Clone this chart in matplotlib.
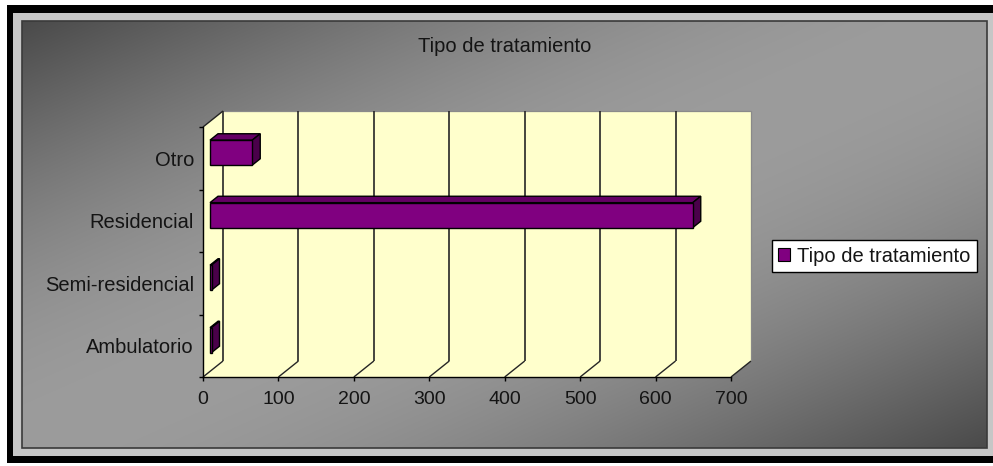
import numpy as np
import matplotlib.pyplot as plt
from matplotlib.patches import Polygon, Rectangle, Patch

# Tratamientos (de abajo hacia arriba) y número de casos
categories = ["Ambulatorio", "Semi-residencial", "Residencial", "Otro"]
values = [2, 2, 640, 56]
x_ticks = [0, 100, 200, 300, 400, 500, 600, 700]
title = "Tipo de tratamiento"
series_name = "Tipo de tratamiento"

W, H = 993, 466
plt.rcParams['font.family'] = ['Liberation Sans', 'DejaVu Sans']
TEXT = '#141414'

fig = plt.figure(figsize=(W / 100, H / 100), dpi=100)
fig.patch.set_facecolor('white')


def frac_box(x0, y0, x1, y1):
    # box given in pixels from the top-left corner -> figure fraction [l, b, w, h]
    return [x0 / W, 1 - y1 / H, (x1 - x0) / W, (y1 - y0) / H]


# outer black frame and light bevel
for rect, color, z in [((7, 5, 1000, 463), 'black', -3),
                       ((13, 13, 1000, 456), '#c6c6c6', -2)]:
    l, b, w, h = frac_box(*rect)
    fig.add_artist(Rectangle((l, b), w, h, transform=fig.transFigure,
                             facecolor=color, edgecolor='none', zorder=z))

# diagonal gray gradient panel
bg = fig.add_axes(frac_box(22, 21, 987, 448), zorder=-1)
nx, ny = 965, 427
u = np.linspace(0, 1, nx)[None, :]
v = np.linspace(0, 1, ny)[:, None]
t = (u + v) / 2
gray = (74 + 82 * np.sin(np.pi * t)) / 255
bg.imshow(np.dstack([gray, gray, gray]), aspect='auto', interpolation='bilinear')
bg.axis('off')
bg.add_patch(Rectangle((0, 0), 1, 1, transform=bg.transAxes, fill=False,
                       edgecolor='#3a3a3a', lw=1.2, clip_on=False))

# plot area: the front plane of the 3-D box
ax = fig.add_axes(frac_box(203, 127, 731, 377))
ax.set_xlim(0, 700)
ax.set_ylim(-0.5, 3.5)
ax.patch.set_visible(False)
for side in ('top', 'right'):
    ax.spines[side].set_visible(False)
for side in ('left', 'bottom'):
    ax.spines[side].set_color('black')
    ax.spines[side].set_linewidth(1.0)

DX, DY = 20, 16  # depth of the box in pixels


def lift(x, y, z):
    # point (x, y) pushed back by depth fraction z
    px, py = ax.transData.transform((x, y))
    return ax.transData.inverted().transform((px + z * DX, py + z * DY))


WALL = '#ffffcc'
y_lo, y_hi = -0.5, 3.5
x_hi = x_ticks[-1]

back = [lift(0, y_lo, 1), lift(x_hi, y_lo, 1), lift(x_hi, y_hi, 1), lift(0, y_hi, 1)]
side_wall = [lift(0, y_lo, 0), lift(0, y_hi, 0), lift(0, y_hi, 1), lift(0, y_lo, 1)]
floor = [lift(0, y_lo, 0), lift(x_hi, y_lo, 0), lift(x_hi, y_lo, 1), lift(0, y_lo, 1)]
for poly in (back, side_wall, floor):
    ax.add_patch(Polygon(poly, closed=True, facecolor=WALL, edgecolor='none',
                         clip_on=False, zorder=1))


def seg(p, q, **kw):
    ax.plot([p[0], q[0]], [p[1], q[1]], clip_on=False, solid_capstyle='butt', **kw)


# outline of the back wall
seg(lift(0, y_hi, 1), lift(x_hi, y_hi, 1), color='#8a8a8a', lw=0.9, zorder=1.2)
seg(lift(x_hi, y_hi, 1), lift(x_hi, y_lo, 1), color='#8a8a8a', lw=0.9, zorder=1.2)
seg(lift(0, y_hi, 0), lift(0, y_hi, 1), color='#222222', lw=1.0, zorder=1.3)

# gridlines on the back wall and their traces across the floor
for xv in x_ticks:
    if xv < x_hi:
        seg(lift(xv, y_lo, 1), lift(xv, y_hi, 1), color='#262626', lw=1.2, zorder=1.3)
    seg(lift(xv, y_lo, 0), lift(xv, y_lo, 1), color='#262626', lw=1.0, zorder=1.3)

# 3-D bars
FRONT, TOP, SIDE = '#800080', '#640064', '#4a004a'
z0, z1, half = 0.35, 0.75, 0.2
for i, val in enumerate(values):
    b0, b1 = i - half, i + half
    top = [lift(0, b1, z0), lift(val, b1, z0), lift(val, b1, z1), lift(0, b1, z1)]
    side = [lift(val, b0, z0), lift(val, b1, z0), lift(val, b1, z1), lift(val, b0, z1)]
    front = [lift(0, b0, z0), lift(val, b0, z0), lift(val, b1, z0), lift(0, b1, z0)]
    for poly, col in ((top, TOP), (side, SIDE), (front, FRONT)):
        ax.add_patch(Polygon(poly, closed=True, facecolor=col, edgecolor='black',
                             lw=1.0, joinstyle='miter', clip_on=False, zorder=3))

# axes ticks and labels
ax.set_xticks(x_ticks)
ax.set_xticklabels([str(x) for x in x_ticks])
ax.tick_params(axis='x', length=3, width=1, direction='out', pad=7,
               labelsize=14, labelcolor=TEXT, color='black')
ax.set_yticks(range(len(categories)))
ax.set_yticklabels(categories)
ax.set_yticks(np.arange(y_lo, y_hi + 0.5, 1), minor=True)
ax.tick_params(axis='y', which='major', length=0, pad=6.5, labelsize=14.5, labelcolor=TEXT)
ax.tick_params(axis='y', which='minor', length=3, width=1, direction='out', color='black')

fig.text(505 / W, 1 - 46 / H, title, ha='center', va='center', fontsize=14.5, color=TEXT)

fig.legend(handles=[Patch(facecolor=FRONT, edgecolor='black', lw=0.8, label=series_name)],
           loc='center left', bbox_to_anchor=(772 / W, 1 - 256 / H),
           frameon=True, fancybox=False, edgecolor='black', framealpha=1,
           fontsize=14.5, handlelength=0.6, handleheight=0.6, handletextpad=0.35,
           borderpad=0.3, borderaxespad=0, labelcolor=TEXT)

fig.savefig('out.png', dpi=100, facecolor=fig.get_facecolor())
